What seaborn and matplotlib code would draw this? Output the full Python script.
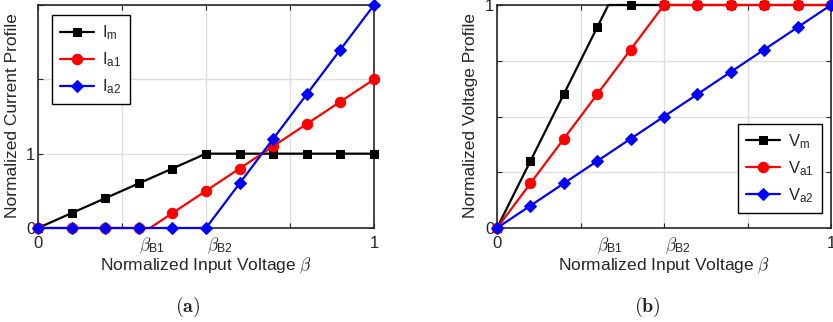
import numpy as np
import matplotlib
matplotlib.use("Agg")
import matplotlib.pyplot as plt
import seaborn as sns

# ---- data ----
beta = [0.0, 0.1, 0.2, 0.3, 0.4, 0.5, 0.6, 0.7, 0.8, 0.9, 1.0]
beta_B1 = 1/3
beta_B2 = 0.5

I_m  = [0.0, 0.2, 0.4, 0.6, 0.8, 1.0, 1.0, 1.0, 1.0, 1.0, 1.0]
I_a1 = [0.0, 0.0, 0.0, 0.0, 0.2, 0.5, 0.8, 1.1, 1.4, 1.7, 2.0]
I_a2 = [0.0, 0.0, 0.0, 0.0, 0.0, 0.0, 0.6, 1.2, 1.8, 2.4, 3.0]

V_m  = [0.0, 0.3, 0.6, 0.9, 1.0, 1.0, 1.0, 1.0, 1.0, 1.0, 1.0]
V_a1 = [0.0, 0.2, 0.4, 0.6, 0.8, 1.0, 1.0, 1.0, 1.0, 1.0, 1.0]
V_a2 = [0.0, 0.1, 0.2, 0.3, 0.4, 0.5, 0.6, 0.7, 0.8, 0.9, 1.0]

# breakpoints of the piecewise-linear curves (beta, value)
I_a1_break = (beta_B1, 0.0)
V_m_break = (beta_B1, 1.0)

labels_a = [r'$\mathregular{I_m}$', r'$\mathregular{I_{a1}}$', r'$\mathregular{I_{a2}}$']
labels_b = [r'$\mathregular{V_m}$', r'$\mathregular{V_{a1}}$', r'$\mathregular{V_{a2}}$']
break_labels = [(r'$\beta_{\mathregular{B1}}$', beta_B1, -0.033),
                (r'$\beta_{\mathregular{B2}}$', beta_B2, 0.003)]

sns.set_style("white")
plt.rcParams['font.family'] = ['Liberation Sans', 'DejaVu Sans']
plt.rcParams['mathtext.fontset'] = 'cm'

TXT = (0.15, 0.15, 0.15)
colors = ['black', (1, 0, 0), (0, 0, 1)]
markers = ['s', 'o', 'D']
msizes = [6, 7.5, 6.5]

fig = plt.figure(figsize=(8.33, 3.22), dpi=100)
axA = fig.add_axes([38/833, 1-228/322, 336/833, 223/322])
axB = fig.add_axes([497/833, 1-228/322, 334/833, 223/322])


def with_break(xs, ys, brk):
    xs = list(xs); ys = list(ys)
    if brk is None:
        return xs, ys, list(range(len(xs)))
    i = int(np.searchsorted(xs, brk[0]))
    xs2 = xs[:i] + [brk[0]] + xs[i:]
    ys2 = ys[:i] + [brk[1]] + ys[i:]
    mk = [j for j in range(len(xs2)) if j != i]
    return xs2, ys2, mk


def draw(ax, series, breaks, labels, ylab, ylab_x):
    for k, (ys, brk) in enumerate(zip(series, breaks)):
        xs2, ys2, mk = with_break(beta, ys, brk)
        sns.lineplot(x=xs2, y=ys2, ax=ax, color=colors[k], lw=1.6,
                     marker=markers[k], markersize=msizes[k], markevery=mk,
                     markeredgecolor=colors[k], markerfacecolor=colors[k],
                     label=labels[k], sort=False, zorder=3 + k, clip_on=False)
    ax.set_xlim(0, 1)
    ax.set_xticks([0, 0.25, 0.5, 0.75, 1])
    ax.set_xticklabels(['0', '', '', '', '1'])
    ax.grid(True, color=(0.87, 0.87, 0.87), lw=1.0)
    ax.set_axisbelow(True)
    for s in ax.spines.values():
        s.set_color(TXT)
        s.set_linewidth(1.2)
        s.set_visible(True)
    ax.tick_params(direction='in', length=3.5, width=0.8, color=TXT,
                   labelcolor=TXT, labelsize=12, top=True, right=True,
                   bottom=True, left=True)
    ax.tick_params(axis='x', pad=5.5)
    ax.tick_params(axis='y', pad=2)
    ax.set_xlabel(r'Normalized Input Voltage $\beta$', fontsize=12.5, color=TXT, va='top')
    ax.xaxis.set_label_coords(0.5, -0.125)
    ax.set_ylabel(ylab, fontsize=12.5, color=TXT)
    ax.yaxis.set_label_coords(ylab_x, 0.505)
    for txt, b, off in break_labels:
        ax.annotate(txt, xy=(b + off, 0), xycoords=('data', 'axes fraction'),
                    xytext=(0, -5.6), textcoords='offset points', ha='left', va='top',
                    fontsize=12.5, color=TXT, annotation_clip=False)


draw(axA, [I_m, I_a1, I_a2], [None, I_a1_break, None], labels_a,
     'Normalized Current Profile', -0.054)
axA.set_ylim(0, 3)
axA.set_yticks([0, 1, 2, 3])
axA.set_yticklabels(['0', '1', '', ''])

draw(axB, [V_m, V_a1, V_a2], [V_m_break, None, None], labels_b,
     'Normalized Voltage Profile', -0.057)
axB.set_ylim(0, 1)
axB.set_yticks([0, 0.25, 0.5, 0.75, 1])
axB.set_yticklabels(['0', '', '', '', '1'])

for ax, loc, anchor in ((axA, 'upper left', (0.042, 0.955)), (axB, 'lower left', (0.722, 0.067))):
    leg = ax.legend(loc=loc, bbox_to_anchor=anchor, borderaxespad=0, fancybox=False,
                    framealpha=1, edgecolor='black', fontsize=12, handlelength=2.0,
                    labelspacing=0.5, borderpad=0.5, handletextpad=0.5)
    leg.get_frame().set_linewidth(1.0)
    for t in leg.get_texts():
        t.set_color(TXT)

fig.text(188/833, 1-307/322, r'$\mathbf{(a)}$', ha='center', va='center', fontsize=14.5)
fig.text(647/833, 1-307/322, r'$\mathbf{(b)}$', ha='center', va='center', fontsize=14.5)

fig.savefig('out.png', dpi=100)
